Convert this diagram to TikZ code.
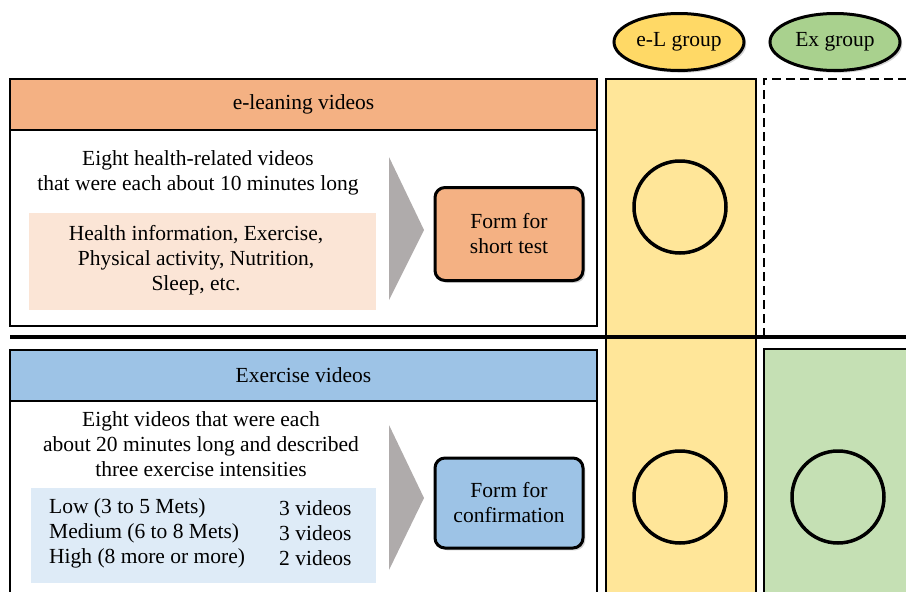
\documentclass[tikz,border=0pt]{standalone}
\usepackage{fontspec}
\setmainfont{Liberation Serif}
\usetikzlibrary{shapes.geometric,shadows}
\definecolor{colO}{HTML}{F4B183}
\definecolor{colB}{HTML}{9DC3E6}
\definecolor{colP}{HTML}{FBE5D6}
\definecolor{colLB}{HTML}{DEEBF7}
\definecolor{colY}{HTML}{FFE699}
\definecolor{colYE}{HTML}{FFD966}
\definecolor{colGE}{HTML}{A9D18E}
\definecolor{colG}{HTML}{C5E0B4}
\definecolor{colArr}{HTML}{AFABAB}
\begin{document}
\begin{tikzpicture}[x=1pt,y=-1pt,
  font=\fontsize{21.5}{25}\selectfont,
  boxline/.style={line width=2pt},
  header/.style={draw, line width=2pt, minimum width=587pt, minimum height=51pt, anchor=north west, inner sep=0pt, outer sep=0pt},
  txt/.style={inner sep=0pt, align=center},
  grp/.style={ellipse, draw, line width=3pt, minimum width=130pt, minimum height=57pt, inner sep=0pt, drop shadow={opacity=0.35}},
  form/.style={draw, rounded corners=10pt, line width=3pt, minimum width=148pt, align=center, inner sep=0pt, drop shadow={opacity=0.35}},
  ringline/.style={line width=3.5pt},
  chev/.style={fill=colArr}]
\clip (0,0) rectangle (906,592);
% group columns
\draw[boxline, fill=colY] (606,79) rectangle (756,620);
\draw[line width=2.5pt, dash pattern=on 9pt off 5pt] (764,337) -- (764,79) -- (930,79);
\draw[boxline, fill=colG] (764,349) rectangle (930,620);
% group labels
\node[grp, fill=colYE] (elg) at (679,42) {e-L group};
\node[grp, fill=colGE] (exg) at (835,42) {Ex group};
% upper section
\draw[boxline] (10,130) rectangle (597,326);
\node[header, fill=colO] (hdr1) at (10,79) {e-leaning videos};
\node[txt] (t1) at (198,173) {Eight health-related videos\\that were each about 10 minutes long};
\fill[colP] (29,213) rectangle (376,310);
\node[txt] (t2) at (196,260) {Health information, Exercise,\\Physical activity, Nutrition,\\Sleep, etc.};
\path[chev] (389,157) -- (424,230) -- (389,300) -- cycle;
\node[form, fill=colO, minimum height=93pt] (f1) at (509,234) {Form for\\short test};
\draw[ringline] (680,207) circle[radius=46pt];
% divider
\draw[line width=4pt] (10,337) -- (906,337);
% lower section
\draw[boxline] (10,401) rectangle (597,620);
\node[header, fill=colB] (hdr2) at (10,350) {Exercise videos};
\node[txt] (t3) at (201,444) {Eight videos that were each\\about 20 minutes long and described\\three exercise intensities};
\fill[colLB] (31,488) rectangle (376,583);
\node[txt, align=left, anchor=west] (t4) at (49,533) {Low (3 to 5 Mets)\\Medium (6 to 8 Mets)\\High (8 more or more)};
\node[txt, align=left, anchor=west] (t5) at (279,533) {3 videos\\3 videos\\2 videos};
\path[chev] (389,425) -- (424,498) -- (389,570) -- cycle;
\node[form, fill=colB, minimum height=90pt] (f2) at (509,503) {Form for\\confirmation};
\draw[ringline] (680,497) circle[radius=46pt];
\draw[ringline] (838,497) circle[radius=46pt];
\end{tikzpicture}
\end{document}
